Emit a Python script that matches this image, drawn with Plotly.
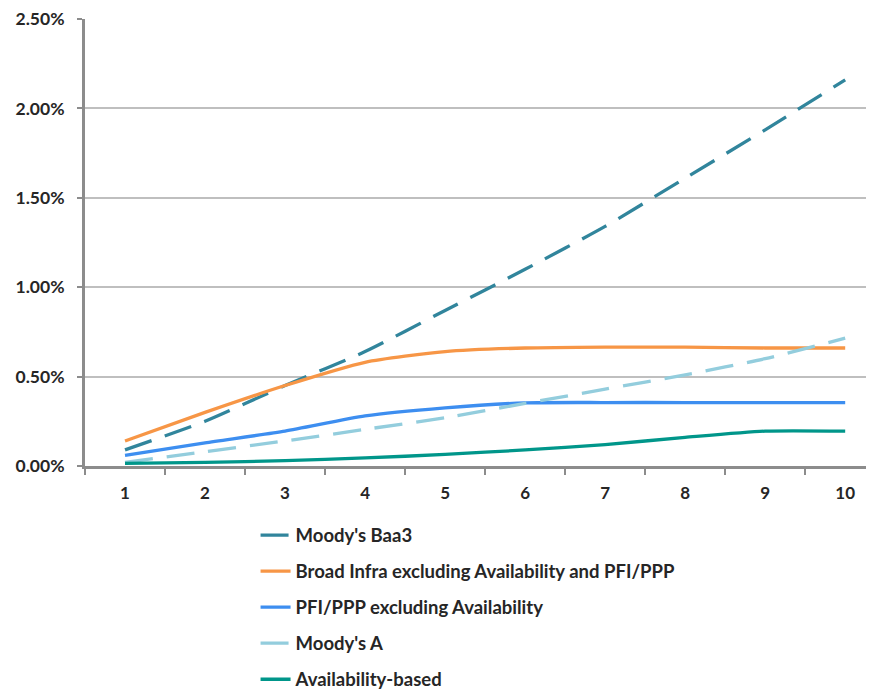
import plotly.graph_objects as go

years = ["1", "2", "3", "4", "5", "6", "7", "8", "9", "10"]
baa3 = [0.09, 0.25, 0.45, 0.64, 0.87, 1.10, 1.34, 1.61, 1.88, 2.16]
broad_infra = [0.14, 0.30, 0.45, 0.58, 0.64, 0.66, 0.665, 0.665, 0.66, 0.66]
pfi_ppp = [0.06, 0.13, 0.195, 0.28, 0.325, 0.353, 0.355, 0.355, 0.355, 0.355]
moodys_a = [0.02, 0.08, 0.14, 0.205, 0.27, 0.35, 0.43, 0.51, 0.60, 0.715]
availability = [0.015, 0.02, 0.03, 0.045, 0.065, 0.09, 0.12, 0.16, 0.195, 0.195]

y_ticks = [0, 0.5, 1.0, 1.5, 2.0, 2.5]

series = [
    ("Moody's Baa3", baa3, "#31859C", "28px,14px"),
    ("Broad Infra excluding Availability and PFI/PPP", broad_infra, "#F79646", "solid"),
    ("PFI/PPP excluding Availability", pfi_ppp, "#3D8EF0", "solid"),
    ("Moody's A", moodys_a, "#93CDDD", "28px,14px"),
    ("Availability-based", availability, "#00968A", "solid"),
]

fig = go.Figure()
for i, (name, vals, color, dash) in enumerate(series):
    fig.add_trace(go.Scatter(
        x=years, y=vals, name=name, mode="lines",
        line=dict(color=color, width=3.3, dash=dash, shape="spline", smoothing=0.6),
        legendgroup=f"g{i}",
    ))

font_family = "Lato, 'Open Sans', sans-serif"

fig.update_layout(
    width=874, height=694,
    margin=dict(l=77, r=0, t=11, b=236, autoexpand=False),
    paper_bgcolor="white", plot_bgcolor="white",
    font=dict(family=font_family, size=13, color="#404040"),
    showlegend=True,
    legend=dict(
        x=0.214, xanchor="left", y=-0.113, yanchor="top",
        font=dict(family=font_family, size=18.5, color="#262626", weight="bold"),
        tracegroupgap=9,
        bgcolor="rgba(0,0,0,0)",
    ),
    xaxis=dict(
        type="category",
        range=[-0.5, 9.46],
        tickson="boundaries",
        ticks="outside", ticklen=6, tickcolor="#8C8C8C", tickwidth=2,
        showline=True, linecolor="#8C8C8C", linewidth=3,
        showgrid=False, zeroline=False,
        tickfont=dict(family=font_family, size=17, color="#262626", weight="bold"),
        ticklabelstandoff=10,
        automargin=False,
        fixedrange=True,
    ),
    yaxis=dict(
        range=[0, 2.5],
        tickvals=y_ticks,
        ticktext=[f"{v:.2f}%" for v in y_ticks],
        showgrid=True, gridcolor="#BFBFBF", gridwidth=2,
        showline=True, linecolor="#8C8C8C", linewidth=3,
        ticks="outside", ticklen=5, tickcolor="#8C8C8C", tickwidth=2,
        zeroline=False,
        tickfont=dict(family=font_family, size=17.5, color="#262626", weight="bold"),
        ticklabelstandoff=9,
        automargin=False,
    ),
)

fig.write_html("out.html")
